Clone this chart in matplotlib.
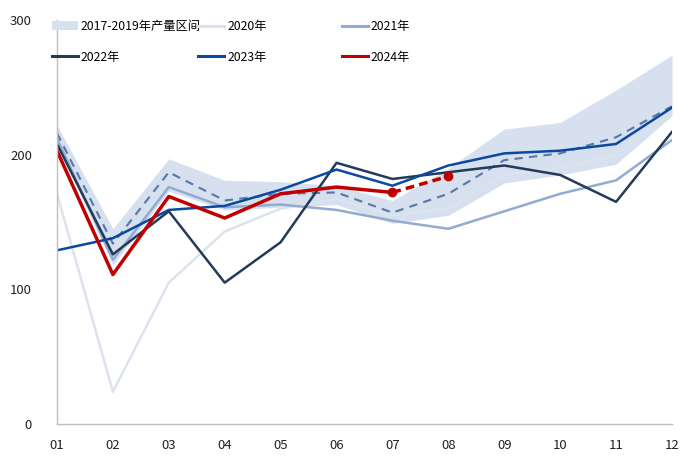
import matplotlib.pyplot as plt
from matplotlib.lines import Line2D
from matplotlib.patches import Patch

plt.rcParams['font.family'] = ['Noto Sans CJK SC', 'DejaVu Sans']

months = ['01', '02', '03', '04', '05', '06', '07', '08', '09', '10', '11', '12']

# 2017-2019 range and mean
band_low = [208, 118, 173, 159, 161, 163, 149, 155, 179, 185, 193, 229]
band_high = [222, 145, 197, 181, 180, 177, 166, 190, 219, 224, 248, 274]
band_mean = [216, 134, 187, 166, 171, 172, 157, 171, 196, 201, 213, 236]

y2020 = [171, 24, 105, 143, 160, 167, 155, 160, 185, 190, 200, 235]
y2021 = [212, 122, 176, 161, 163, 159, 151, 145, 158, 171, 181, 211]
y2022 = [208, 126, 158, 105, 135, 194, 182, 187, 192, 185, 165, 217]
y2023 = [129, 138, 159, 162, 174, 189, 177, 192, 201, 203, 208, 235]
y2024 = [203, 111, 169, 153, 171, 176, 172]
y2024_est = [172, 184]   # 07 -> 08, dashed

c_band = '#d6e0ef'
c2020 = '#dbe3ee'
c2021 = '#91abd1'
c2022 = '#243a58'
c2023 = '#0b48a0'
c2024 = '#c00000'

fig = plt.figure(figsize=(7, 4.67), dpi=100)
ax = fig.add_axes([0.0814, 0.092, 0.8786, 0.865])
x = list(range(len(months)))

ax.fill_between(x, band_low, band_high, color=c_band, lw=0)
ax.plot(x, y2020, color=c2020, lw=1.8)
ax.plot(x, band_mean, color='#5877a6', lw=1.5, ls=(0, (4, 3)))
ax.plot(x, y2021, color=c2021, lw=1.8)
ax.plot(x, y2022, color=c2022, lw=1.8)
ax.plot(x, y2023, color=c2023, lw=1.8)
ax.plot(x[:len(y2024)], y2024, color=c2024, lw=2.5)
ax.plot(x[6:8], y2024_est, color=c2024, lw=2.5, ls=(0, (2.5, 1.5)),
        marker='o', ms=6)

ax.set_xlim(0, 11)
ax.set_ylim(0, 300)
ax.set_yticks([0, 100, 200, 300])
ax.set_xticks(x)
ax.set_xticklabels(months)
ax.tick_params(length=0, labelsize=9.5, colors='#222222')
ax.tick_params(axis='y', pad=18)
ax.tick_params(axis='x', pad=11)
for s in ['top', 'right']:
    ax.spines[s].set_visible(False)
for s in ['left', 'bottom']:
    ax.spines[s].set_color('#bfbfbf')
    ax.spines[s].set_linewidth(1)

cols = [
    [(Patch(facecolor=c_band, edgecolor='none'), '2017-2019年产量区间'),
     (Line2D([], [], color=c2022, lw=2.2), '2022年')],
    [(Line2D([], [], color=c2020, lw=2.2), '2020年'),
     (Line2D([], [], color=c2023, lw=2.2), '2023年')],
    [(Line2D([], [], color=c2021, lw=2.2), '2021年'),
     (Line2D([], [], color=c2024, lw=2.2), '2024年')],
]
xs = [0.064, 0.273, 0.478]
for xi, col in zip(xs, cols):
    fig.legend([h for h, _ in col], [t for _, t in col],
               loc='upper left', bbox_to_anchor=(xi, 0.973),
               frameon=False, fontsize=8.8, handlelength=2.1,
               handletextpad=0.25, labelspacing=1.45, borderaxespad=0.2)

fig.savefig('out.png', dpi=100)
